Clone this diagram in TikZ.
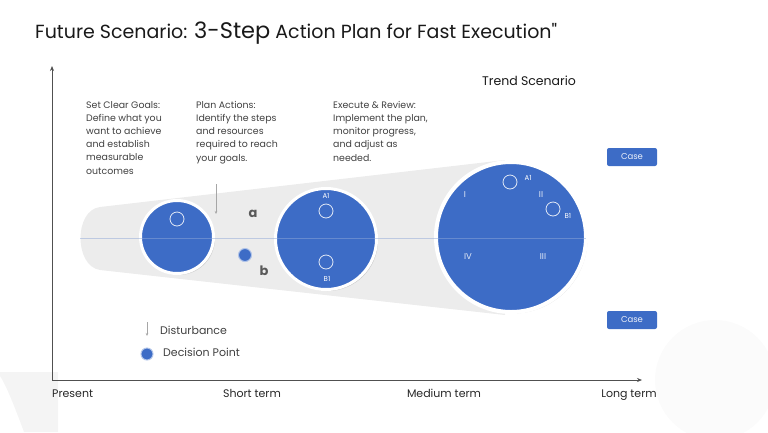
\documentclass[tikz,border=0pt]{standalone}
\usepackage{fontspec}
\setmainfont{Poppins}[Ligatures=TeXOff]
\usetikzlibrary{shadows,arrows.meta}
\definecolor{cblue}{HTML}{3D6CC6}
\definecolor{txt}{HTML}{404040}
\definecolor{axis}{HTML}{505050}
\definecolor{funnel}{HTML}{ECECEC}
\definecolor{midline}{HTML}{8FA8D8}
\tikzset{
  bigcirc/.style={circle, fill=cblue, draw=white, line width=3pt, inner sep=0pt,
    drop shadow={opacity=0.3, shadow xshift=1.5pt, shadow yshift=-1.5pt}},
  ring/.style={circle, draw=white!85!cblue, line width=0.8pt, inner sep=0pt, minimum size=14pt},
  desc/.style={align=left, anchor=north west, font=\fontsize{9.4}{13.2}\selectfont, text=txt, inner sep=0pt},
  roman/.style={text=white!85!cblue, font=\fontsize{8.5}{9}\selectfont},
  clabel/.style={text=white, font=\fontsize{7}{7}\selectfont},
  casebox/.style={rectangle, rounded corners=2pt, fill=cblue, text=white!90!cblue,
    minimum width=50pt, minimum height=18pt, inner sep=0pt, font=\fontsize{8.5}{9}\selectfont},
  axislbl/.style={text=black!85, font=\fontsize{11}{12}\selectfont, inner sep=0pt},
  legtxt/.style={anchor=west, inner sep=0pt, text=txt, font=\fontsize{11}{12}\selectfont},
  dist/.style={draw=gray!70, line width=0.5pt, -{Stealth[length=3pt,width=2.5pt]}},
}
\begin{document}
\begin{tikzpicture}[x=1pt,y=-1pt]
\useasboundingbox (0,0) rectangle (768,432);
% faint decorative shapes
\fill[gray!9] (0,372) -- (58,372) -- (58,432) -- (24,432) .. controls (14,405) and (6,385) .. (0,376) -- cycle;
\fill[gray!3] (715,380) circle (60);
% title
\node[anchor=base west, inner sep=0pt, text=black!90] (title) at (35,38)
  {\fontsize{19}{20}\selectfont Future Scenario: {\fontsize{22.5}{24}\selectfont 3-Step} Action Plan for Fast Execution"};
% funnel
\fill[funnel] (505,160) -- (100,207) .. controls (74,210) and (74,266) .. (100,270) -- (505,315) -- cycle;
% axes
\coordinate (origin) at (52,380);
\coordinate (ytop) at (52,66);
\coordinate (xend) at (642,380);
\draw[axis, line width=0.7pt, -{Stealth[length=5pt,width=4pt]}] (origin) -- (ytop);
\draw[axis, line width=0.7pt, -{Stealth[length=5pt,width=4pt]}] (origin) -- (xend);
% axis labels
\node[axislbl, anchor=base west] (present) at (52,397) {Present};
\node[axislbl, anchor=base] (short) at (252,397) {Short term};
\node[axislbl, anchor=base] (medium) at (444,397) {Medium term};
\node[axislbl, anchor=base] (long) at (629,397) {Long term};
% descriptions
\node[desc] (goals) at (86,101) {Set Clear Goals:\\Define what you\\want to achieve\\and establish\\measurable\\outcomes};
\node[desc] (plan) at (196,101) {Plan Actions:\\Identify the steps\\and resources\\required to reach\\your goals.};
\node[desc] (exec) at (333,101) {Execute \& Review:\\Implement the plan,\\monitor progress,\\and adjust as\\needed.};
\node[text=black!90, font=\fontsize{12.5}{14}\selectfont] (trend) at (529,81) {Trend Scenario};
% circles
\node[bigcirc, minimum size=73pt] (c1) at (177,237) {};
\node[bigcirc, minimum size=101pt] (c2) at (326,239) {};
\node[bigcirc, minimum size=150pt, line width=4pt] (c3) at (511,237) {};
% midline
\draw[midline, opacity=0.5, line width=0.6pt] (80,238) -- (586,238);
% rings
\node[ring] (r1) at (177,219) {};
\node[ring] (a1b) at (326,211) {};
\node[clabel] (a1bl) at (326,196) {A1};
\node[ring] (b1b) at (326,262) {};
\node[clabel] (b1bl) at (327,279) {B1};
\node[ring] (a1c) at (510,182) {};
\node[clabel, anchor=west] (a1cl) at (521,178) {A1};
\node[ring] (b1c) at (553,209) {};
\node[clabel, anchor=west] (b1cl) at (561,216) {B1};
\node[roman] (q1) at (465,195) {I};
\node[roman] (q2) at (541,195) {II};
\node[roman] (q4) at (468,257) {IV};
\node[roman] (q3) at (543,257) {III};
% decision point
\node[circle, fill=cblue, inner sep=0pt, minimum size=13pt, draw=cblue!40, line width=1pt] (dp) at (245,255) {};
\node[text=black!65, font=\fontsize{13}{13}\bfseries] (la) at (253,214) {a};
\node[text=black!65, font=\fontsize{13}{13}\bfseries] (lb) at (264,271) {b};
% disturbance
\coordinate (d1) at (216,184);
\coordinate (d2) at (216,214);
\draw[dist] (d1) -- (d2);
% case boxes
\node[casebox] (case1) at (632,157) {Case};
\node[casebox] (case2) at (632,320) {Case};
% legend
\coordinate (l1) at (147,322);
\coordinate (l2) at (147,336);
\draw[dist] (l1) -- (l2);
\node[legtxt] (ldist) at (160,330) {Disturbance};
\node[circle, fill=cblue, inner sep=0pt, minimum size=12pt, draw=cblue!40, line width=1pt] (ldp) at (147,354) {};
\node[legtxt] (ldpt) at (163,352) {Decision Point};
\end{tikzpicture}
\end{document}
